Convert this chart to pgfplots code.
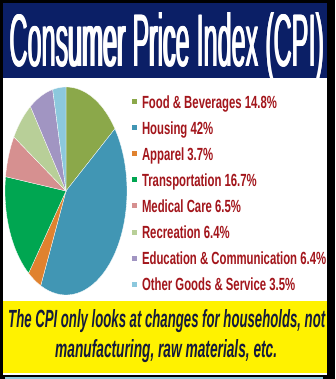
\documentclass[border=0pt]{standalone}
\usepackage{fontspec}
\setmainfont{Liberation Sans}
\usepackage{graphicx}
\usepackage{pgfplots}
\pgfplotsset{compat=1.18}
\definecolor{navy}{HTML}{0B1F66}
\definecolor{legred}{HTML}{A3161C}
\definecolor{bottomtxt}{HTML}{141A3C}
\definecolor{cFood}{HTML}{8BA84A}
\definecolor{cHousing}{HTML}{4196B4}
\definecolor{cApparel}{HTML}{E0822F}
\definecolor{cTransport}{HTML}{00A651}
\definecolor{cMedical}{HTML}{D69090}
\definecolor{cRecreation}{HTML}{B8CF98}
\definecolor{cEducation}{HTML}{A195C2}
\definecolor{cOther}{HTML}{8CC8DD}
\newcommand\pieslice[3]{%
  \addplot[fill=#1, draw=white, line width=0.3pt, domain=#3:#2, samples=40, variable=\t]
    ({cos(\t)},{sin(\t)}) -- (axis cs:0,0) -- cycle;}
\newcommand\legent[1]{\addlegendentry{\scalebox{0.645}[1]{\fontsize{17.6}{20}\selectfont\bfseries #1}}}
\newcommand\titletext{\resizebox{314.6pt}{54pt}{\fontsize{40}{40}\selectfont Consumer Price Index (CPI)}}
\begin{document}
\begin{tikzpicture}[x=1pt,y=1pt]
\path[use as bounding box] (0,0) rectangle (335,379);
\fill[black] (0,0) rectangle (335,379);
\fill[cOther] (5,0) rectangle (323,1.5);
\fill[white] (3,4) rectangle (327,6);
\fill[yellow] (3,6) rectangle (327,78);
\fill[white] (3,78) rectangle (327,301);
\fill[navy] (3,301) rectangle (327,376);
\node[anchor=base west, inner sep=0pt, text=white] at (9,312)
  {\rlap{\titletext}\hspace{0.7pt}\rlap{\titletext}\hspace{0.7pt}\titletext};
\node[anchor=base west, inner sep=0pt, text=bottomtxt] at (8,51)
  {\resizebox{317pt}{18pt}{\fontsize{25}{25}\selectfont\bfseries\itshape The CPI only looks at changes for households, not}};
\node[anchor=base west, inner sep=0pt, text=bottomtxt] at (55,22)
  {\resizebox{222pt}{18pt}{\fontsize{25}{25}\selectfont\bfseries\itshape manufacturing, raw materials, etc.}};
% shares (percent)
\def\vA{14.8}\def\vB{42}\def\vC{3.7}\def\vD{16.7}\def\vE{6.5}\def\vF{6.4}\def\vG{6.4}\def\vH{3.5}
\pgfmathsetmacro{\aA}{90}
\pgfmathsetmacro{\aB}{\aA-3.6*\vA}
\pgfmathsetmacro{\aC}{\aB-3.6*\vB}
\pgfmathsetmacro{\aD}{\aC-3.6*\vC}
\pgfmathsetmacro{\aE}{\aD-3.6*\vD}
\pgfmathsetmacro{\aF}{\aE-3.6*\vE}
\pgfmathsetmacro{\aG}{\aF-3.6*\vF}
\pgfmathsetmacro{\aH}{\aG-3.6*\vG}
\pgfmathsetmacro{\aI}{\aH-3.6*\vH}
\begin{axis}[at={(66pt,188pt)}, anchor=center, scale only axis,
  width=122pt, height=208pt, xmin=-1, xmax=1, ymin=-1, ymax=1,
  hide axis, clip=false,
  legend image code/.code={\fill[#1,draw=none] (0pt,-2.5pt) rectangle (5pt,2.5pt);},
  legend style={at={(1.041,0.9928)}, anchor=north west, draw=none, fill=none,
    inner sep=0pt, outer sep=0pt, row sep=0pt, column sep=5pt,
    cells={anchor=west},
    nodes={inner sep=0pt, outer sep=0pt, text height=19.8pt, text depth=6.3pt, text=legred}},
  ]
\pieslice{cFood}{\aA}{\aB}\legent{Food \& Beverages 14.8\%}
\pieslice{cHousing}{\aB}{\aC}\legent{Housing 42\%}
\pieslice{cApparel}{\aC}{\aD}\legent{Apparel 3.7\%}
\pieslice{cTransport}{\aD}{\aE}\legent{Transportation 16.7\%}
\pieslice{cMedical}{\aE}{\aF}\legent{Medical Care 6.5\%}
\pieslice{cRecreation}{\aF}{\aG}\legent{Recreation 6.4\%}
\pieslice{cEducation}{\aG}{\aH}\legent{Education \& Communication 6.4\%}
\pieslice{cOther}{\aH}{\aI}\legent{Other Goods \& Service 3.5\%}
\end{axis}
\end{tikzpicture}
\end{document}
